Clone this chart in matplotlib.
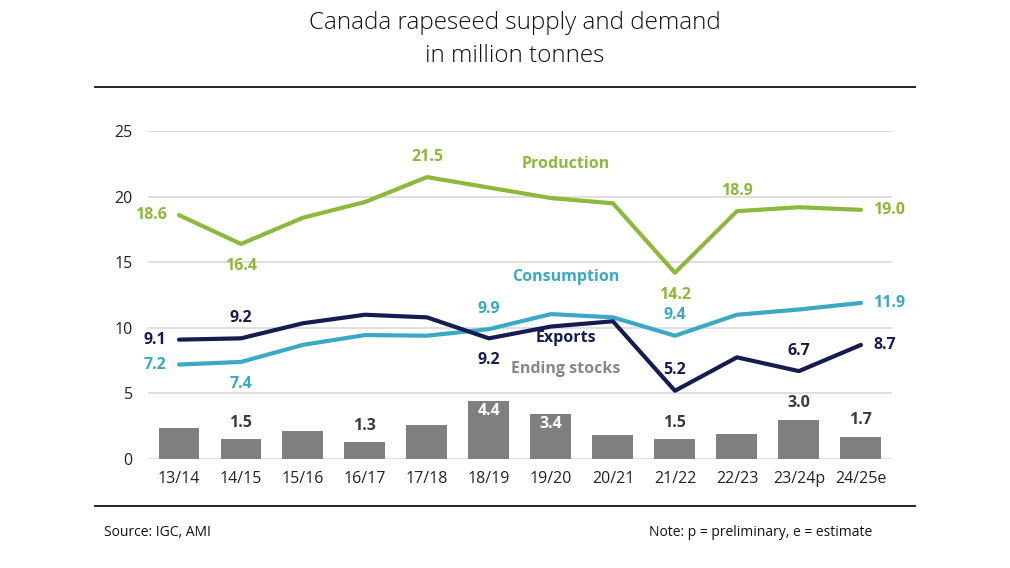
import matplotlib
matplotlib.use("Agg")
import matplotlib.pyplot as plt
from matplotlib.lines import Line2D

plt.rcParams['font.family'] = ['Open Sans', 'DejaVu Sans']

categories = ["13/14", "14/15", "15/16", "16/17", "17/18", "18/19",
              "19/20", "20/21", "21/22", "22/23", "23/24p", "24/25e"]
production = [18.6, 16.4, 18.4, 19.6, 21.5, 20.7, 19.9, 19.5, 14.2, 18.9, 19.2, 19.0]
consumption = [7.2, 7.4, 8.7, 9.45, 9.4, 9.9, 11.05, 10.8, 9.4, 11.0, 11.4, 11.9]
exports = [9.1, 9.2, 10.35, 11.0, 10.8, 9.2, 10.1, 10.5, 5.2, 7.75, 6.7, 8.7]
stocks = [2.35, 1.5, 2.1, 1.3, 2.6, 4.4, 3.4, 1.8, 1.5, 1.9, 3.0, 1.7]
yticks = [0, 5, 10, 15, 20, 25]

GREEN = "#8cb83c"
CYAN = "#3aa9c6"
NAVY = "#141c52"
GREY = "#7f7f7f"
TEXT = "#222222"

fig = plt.figure(figsize=(10.10, 5.68), dpi=100)
ax = fig.add_axes([0.1465, 0.192, 0.7366, 0.577])

x = list(range(len(categories)))
ax.bar(x, stocks, width=0.66, color=GREY, zorder=2)
lw = 3.0
ax.plot(x, consumption, color=CYAN, lw=lw, solid_capstyle='round', solid_joinstyle='round', zorder=3)
ax.plot(x, exports, color=NAVY, lw=lw, solid_capstyle='round', solid_joinstyle='round', zorder=4)
ax.plot(x, production, color=GREEN, lw=lw, solid_capstyle='round', solid_joinstyle='round', zorder=3)

ax.set_xlim(-0.5, 11.5)
ax.set_ylim(0, 25)
ax.set_yticks(yticks)
ax.set_xticks(x)
ax.set_xticklabels(categories)
ax.tick_params(axis='both', length=0, labelsize=11.5, colors=TEXT)
ax.tick_params(axis='y', pad=11)
ax.tick_params(axis='x', pad=9)
ax.grid(axis='y', color='#d9d9d9', lw=1.2, zorder=0)
for s in ax.spines.values():
    s.set_visible(False)

fs = 11.5

def lab(series, i, pos, color):
    offs = {'left': (-9, 0, 'right', 'center'),
            'right': (9, 0, 'left', 'center'),
            'above': (0, 9, 'center', 'bottom'),
            'below': (0, -10, 'center', 'top')}[pos]
    ax.annotate(f"{series[i]:.1f}", (i, series[i]), xytext=offs[:2], textcoords='offset points',
                ha=offs[2], va=offs[3], color=color, fontsize=fs,
                fontweight='bold', zorder=6)

# Production labels
lab(production, 0, 'left', GREEN)
lab(production, 1, 'below', GREEN)
lab(production, 4, 'above', GREEN)
lab(production, 8, 'below', GREEN)
lab(production, 9, 'above', GREEN)
lab(production, 11, 'right', GREEN)
# Consumption labels
lab(consumption, 0, 'left', CYAN)
lab(consumption, 1, 'below', CYAN)
lab(consumption, 5, 'above', CYAN)
lab(consumption, 8, 'above', CYAN)
lab(consumption, 11, 'right', CYAN)
# Exports labels
lab(exports, 0, 'left', NAVY)
lab(exports, 1, 'above', NAVY)
lab(exports, 5, 'below', NAVY)
lab(exports, 8, 'above', NAVY)
lab(exports, 10, 'above', NAVY)
lab(exports, 11, 'right', NAVY)
# Stocks labels
for i in [1, 3, 8, 10, 11]:
    ax.annotate(f"{stocks[i]:.1f}", (i, stocks[i]), xytext=(0, 6), textcoords='offset points',
                ha='center', va='bottom', color="#3a3a3a", fontsize=fs, fontweight='bold')
for i in [5, 6]:
    ax.annotate(f"{stocks[i]:.1f}", (i, stocks[i]), xytext=(0, -7), textcoords='offset points',
                ha='center', va='center', color='white', fontsize=fs, fontweight='bold')

# Series names
ax.text(6.24, 22.5, "Production", color=GREEN, fontsize=fs, fontweight='bold', ha='center', va='center')
ax.text(6.24, 13.9, "Consumption", color=CYAN, fontsize=fs, fontweight='bold', ha='center', va='center')
ax.text(6.24, 9.2, "Exports", color=NAVY, fontsize=fs, fontweight='bold', ha='center', va='center')
ax.text(6.24, 6.86, "Ending stocks", color="#888888", fontsize=fs, fontweight='bold', ha='center', va='center')

# Title
fig.text(0.51, 1 - 23 / 568, "Canada rapeseed supply and demand", ha='center', va='center',
         fontsize=17.5, fontweight='light', color='#111111')
fig.text(0.51, 1 - 56 / 568, "in million tonnes", ha='center', va='center',
         fontsize=17.5, fontweight='light', color='#111111')

# Rules
fig.add_artist(Line2D([95 / 1010, 915 / 1010], [1 - 87 / 568] * 2, color='#111111', lw=1.3))
fig.add_artist(Line2D([95 / 1010, 915 / 1010], [1 - 506 / 568] * 2, color='#111111', lw=1.3))

# Footer
fig.text(104 / 1010, 1 - 532 / 568, "Source: IGC, AMI", ha='left', va='center', fontsize=10, color='#111111')
fig.text(872 / 1010, 1 - 532 / 568, "Note: p = preliminary, e = estimate", ha='right', va='center',
         fontsize=10, color='#111111')

fig.savefig("out.png", dpi=100)
